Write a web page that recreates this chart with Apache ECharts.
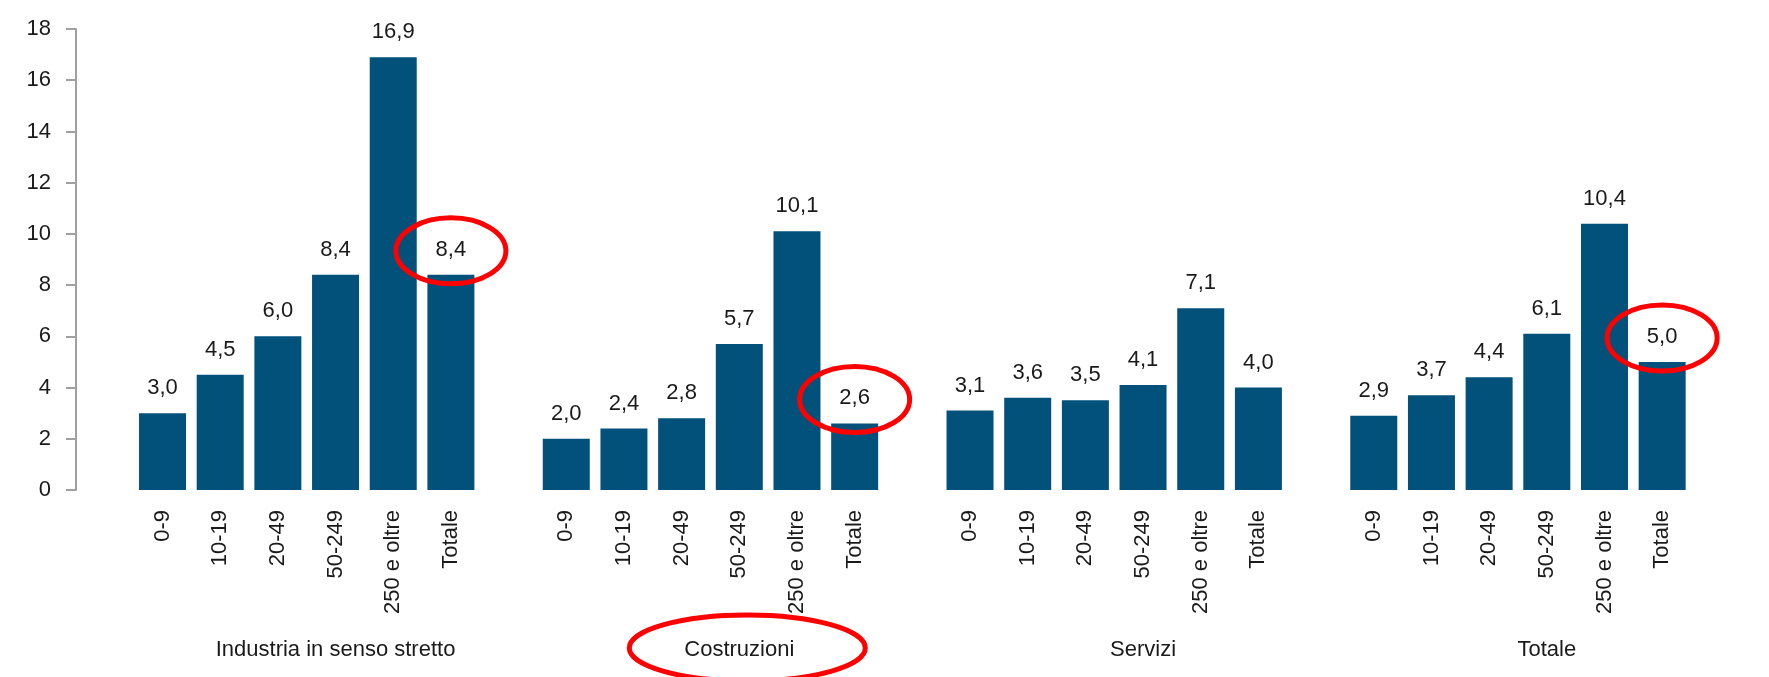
<!DOCTYPE html>
<html>
<head>
<meta charset="utf-8">
<script src="https://cdn.jsdelivr.net/npm/echarts@6/dist/echarts.min.js"></script>
<style>
  html, body { margin: 0; padding: 0; background: #fff; }
  #chart { width: 1769px; height: 677px; }
</style>
</head>
<body>
<div id="chart"></div>
<script>
// classi di addetti e settori
const sizeClasses = ['0-9', '10-19', '20-49', '50-249', '250 e oltre', 'Totale'];
const sectors = ['Industria in senso stretto', 'Costruzioni', 'Servizi', 'Totale'];

// valori per settore
const industria = [3.0, 4.5, 6.0, 8.4, 16.9, 8.4];
const costruzioni = [2.0, 2.4, 2.8, 5.7, 10.1, 2.6];
const servizi = [3.1, 3.6, 3.5, 4.1, 7.1, 4.0];
const totale = [2.9, 3.7, 4.4, 6.1, 10.4, 5.0];

const groups = [industria, costruzioni, servizi, totale];

// una categoria vuota prima di ogni gruppo
let slotLabels = [];
let groupLabels = [];
let values = [];
groups.forEach(function (vals, g) {
  slotLabels.push('');
  groupLabels.push('');
  values.push(null);
  vals.forEach(function (v, i) {
    slotLabels.push(sizeClasses[i]);
    groupLabels.push(i === 3 ? sectors[g] : '');
    values.push(v);
  });
});

const FONT = "'Liberation Sans Narrow', 'Arial Narrow', 'Liberation Sans', Arial, sans-serif";
const FS = 22;
const TXT = '#1a1a1a';

let chart = echarts.init(document.getElementById('chart'));
chart.setOption({
  animation: false,
  grid: { left: 76, right: 78, top: 29, bottom: 187 },
  xAxis: [
    {
      type: 'category',
      data: slotLabels,
      axisLine: { show: false },
      axisTick: { show: false },
      axisLabel: {
        interval: 0,
        rotate: 90,
        margin: 20,
        color: TXT,
        fontFamily: FONT,
        fontSize: FS
      }
    },
    {
      type: 'category',
      position: 'bottom',
      data: groupLabels,
      axisLine: { show: false },
      axisTick: { show: false },
      axisLabel: {
        interval: 0,
        margin: 149,
        color: TXT,
        fontFamily: FONT,
        fontSize: FS
      }
    }
  ],
  yAxis: {
    type: 'value',
    min: 0,
    max: 18,
    interval: 2,
    splitLine: { show: false },
    axisLine: { show: true, lineStyle: { color: '#a0a0a0', width: 2 } },
    axisTick: { show: true, length: 10, lineStyle: { color: '#a0a0a0', width: 2 } },
    axisLabel: {
      margin: 25,
      color: TXT,
      fontFamily: FONT,
      fontSize: FS
    }
  },
  series: [
    {
      type: 'bar',
      data: values,
      barWidth: 47,
      itemStyle: { color: '#02517b' },
      label: {
        show: true,
        position: 'top',
        distance: 14,
        color: TXT,
        fontFamily: FONT,
        fontSize: FS,
        formatter: function (p) { return p.value.toFixed(1).replace('.', ','); }
      }
    }
  ]
});

// cerchi rossi di evidenziazione
function slotOf(g, i) { return g * 7 + 1 + i; }
let marks = [
  chart.convertToPixel({ seriesIndex: 0 }, [slotOf(0, 5), industria[5]]),
  chart.convertToPixel({ seriesIndex: 0 }, [slotOf(1, 5), costruzioni[5]]),
  chart.convertToPixel({ seriesIndex: 0 }, [slotOf(3, 5), totale[5]])
];
let ring = { fill: 'none', stroke: '#ff0000', lineWidth: 5 };
let graphics = marks.map(function (p) {
  return { type: 'ellipse', shape: { cx: p[0], cy: p[1] - 24, rx: 55, ry: 33 }, style: ring, z: 100 };
});
let cx = chart.convertToPixel({ xAxisIndex: 1 }, slotOf(1, 3));
graphics.push({ type: 'ellipse', shape: { cx: cx + 8, cy: 648, rx: 118, ry: 33 }, style: ring, z: 100 });
chart.setOption({ graphic: graphics });
</script>
</body>
</html>
